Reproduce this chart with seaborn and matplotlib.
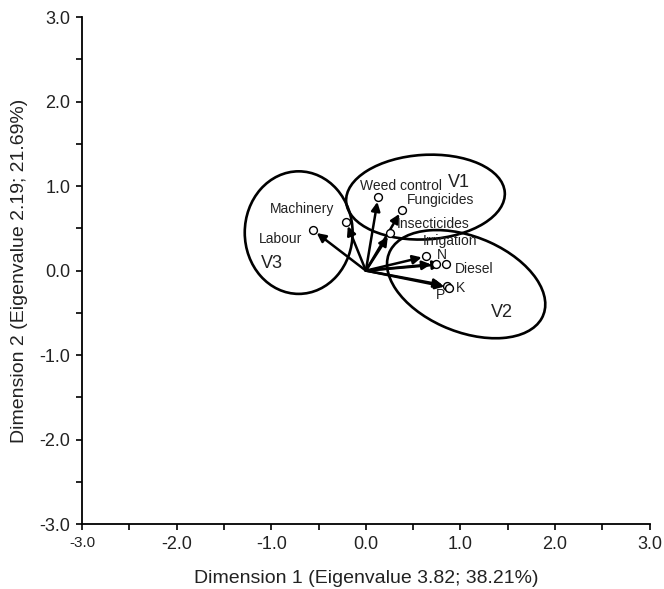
import numpy as np
import pandas as pd
import matplotlib
matplotlib.use("Agg")
import matplotlib.pyplot as plt
from matplotlib.patches import Ellipse
import seaborn as sns

# variable loadings on the first two dimensions
variables = ["Weed control", "Fungicides", "Insecticides", "Machinery", "Labour",
             "N", "Irrigation", "Diesel", "P", "K"]
dim1 = [0.13, 0.38, 0.26, -0.21, -0.56, 0.64, 0.74, 0.85, 0.86, 0.88]
dim2 = [0.87, 0.72, 0.45, 0.58, 0.48, 0.17, 0.08, 0.08, -0.18, -0.20]

# group ellipses
groups = ["V1", "V2", "V3"]
grp_cx = [0.63, 1.06, -0.71]
grp_cy = [0.87, -0.16, 0.45]
grp_w = [1.68, 1.79, 1.14]
grp_h = [1.00, 1.11, 1.45]
grp_ang = [4, -27, 0]

df = pd.DataFrame({"var": variables, "d1": dim1, "d2": dim2})

# label anchors (left edge, vertical centre)
lab_pos = {
    "Weed control": (-0.06, 1.00), "Fungicides": (0.43, 0.83),
    "Insecticides": (0.33, 0.55), "Machinery": (-1.01, 0.73),
    "Labour": (-1.13, 0.38), "N": (0.75, 0.19), "Irrigation": (0.60, 0.35),
    "Diesel": (0.94, 0.02), "P": (0.74, -0.29), "K": (0.95, -0.20),
}
grp_pos = {"V1": (0.87, 1.04), "V2": (1.32, -0.49), "V3": (-1.11, 0.08)}

sns.set_theme(style="ticks")
plt.rcParams["font.family"] = ["Liberation Sans", "DejaVu Sans"]

fig = plt.figure(figsize=(6.64, 5.89), dpi=100)
ax = fig.add_axes([0.1235, 0.110, 0.855, 0.861])

# arrows from origin
for _, r in df.iterrows():
    ax.annotate("", xy=(r.d1, r.d2), xytext=(0, 0),
                arrowprops=dict(arrowstyle="-|>", color="black", lw=1.8,
                                mutation_scale=13, shrinkA=0, shrinkB=3.5))

sns.scatterplot(data=df, x="d1", y="d2", marker="o", s=32, color="black",
                linewidth=1.0, ax=ax, zorder=3)
ax.collections[0].set_facecolor("white")
ax.collections[0].set_edgecolor("black")

for g, cx, cy, w, h, a in zip(groups, grp_cx, grp_cy, grp_w, grp_h, grp_ang):
    ax.add_patch(Ellipse((cx, cy), w, h, angle=a, fill=False, ec="black", lw=1.9))
    gx, gy = grp_pos[g]
    ax.text(gx, gy, g, fontsize=13, color="#222222", ha="left", va="center")

for v in variables:
    lx, ly = lab_pos[v]
    ax.text(lx, ly, v, fontsize=10, color="#222222", ha="left", va="center")

ax.set_xlim(-3, 3)
ax.set_ylim(-3, 3)
ticks = [-3, -2, -1, 0, 1, 2, 3]
ax.set_xticks(ticks)
ax.set_yticks(ticks)
ax.set_xticks(np.arange(-2.5, 3, 1.0), minor=True)
ax.set_yticks(np.arange(-2.5, 3, 1.0), minor=True)
ax.set_xticklabels([f"{t:.1f}" for t in ticks])
ax.set_yticklabels([f"{t:.1f}" for t in ticks])
ax.tick_params(which="both", direction="out", length=4.5, width=1.2, color="black",
               labelsize=13, labelcolor="#222222", pad=4)
ax.get_xticklabels()[0].set_fontsize(11)

for s in ["top", "right"]:
    ax.spines[s].set_visible(False)
for s in ["left", "bottom"]:
    ax.spines[s].set_linewidth(1.3)
    ax.spines[s].set_color("black")

ax.set_xlabel("Dimension 1 (Eigenvalue 3.82; 38.21%)", fontsize=14, color="#222222", labelpad=12)
ax.set_ylabel("Dimension 2 (Eigenvalue 2.19; 21.69%)", fontsize=14, color="#222222", labelpad=8)

fig.savefig("out.png", dpi=100)
